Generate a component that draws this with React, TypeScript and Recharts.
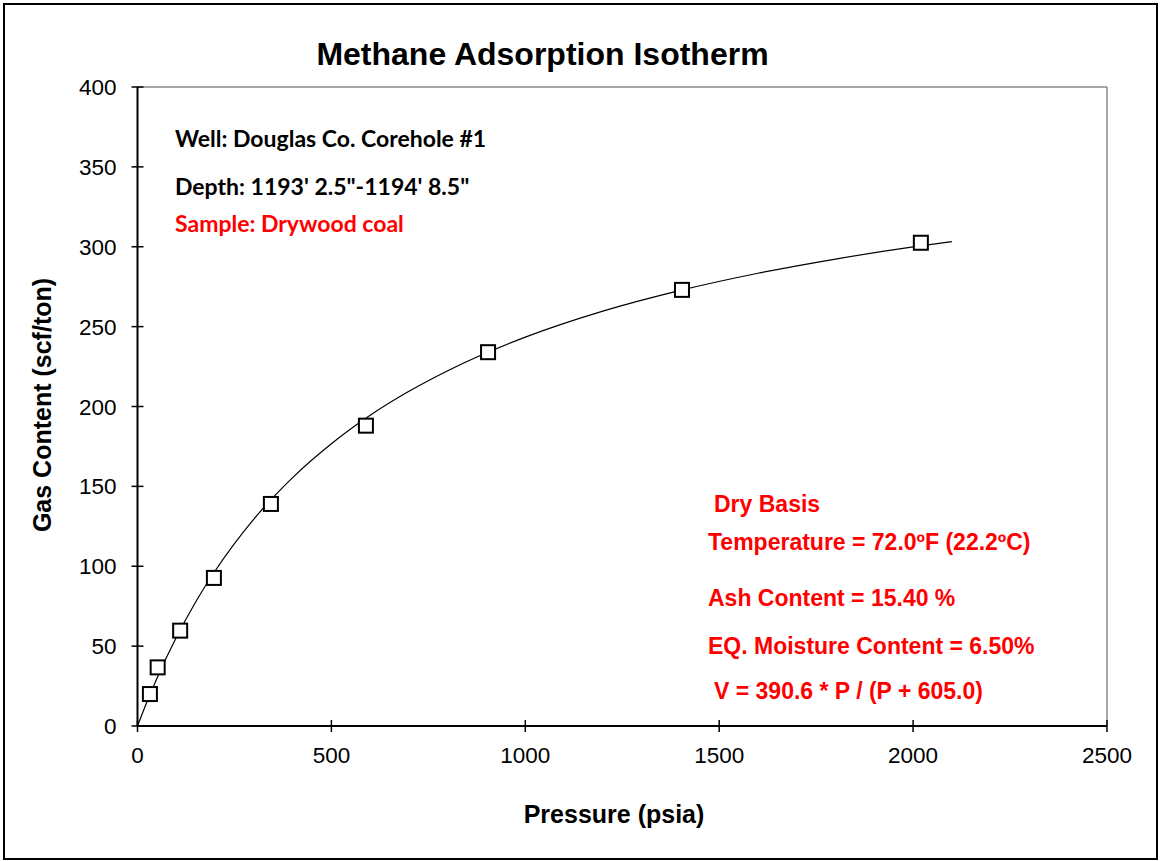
import React from 'react'
import {
  ComposedChart,
  Line,
  Scatter,
  XAxis,
  YAxis,
  ReferenceLine
} from 'recharts'

// measured points (psia, scf/ton)
const measuredPressure = [32, 52, 110, 197, 344, 589, 904, 1404, 2020]
const measuredGas = [20, 36.7, 59.7, 92.7, 139, 188, 234, 273, 302.5]

// fitted isotherm
const curvePressure = [0, 25, 50, 100, 150, 200, 300, 400, 500, 600, 700, 800, 1000, 1200, 1400, 1600, 1800, 2000, 2100]
const curveGas = [0, 15.5, 29.8, 55.4, 77.6, 97.0, 129.5, 155.5, 176.7, 194.5, 209.5, 222.4, 243.4, 259.7, 272.7, 283.4, 292.3, 299.9, 303.2]

const xTicks = [0, 500, 1000, 1500, 2000, 2500]
const yTicks = [0, 50, 100, 150, 200, 250, 300, 350, 400]

const measured = measuredPressure.map((p, i) => ({ p, v: measuredGas[i] }))
const curve = curvePressure.map((p, i) => ({ p, v: curveGas[i] }))

const ARIAL = '"Liberation Sans", Arial, sans-serif'
const CALIBRI = 'Lato, "Open Sans", sans-serif'

const YTick = (props: any) => {
  const { x, y, payload } = props
  const ax = x + 21
  return (
    <g>
      <line x1={ax - 6} x2={ax + 6} y1={y} y2={y} stroke='#000' strokeWidth={1.5} />
      <text x={x} y={y + 8} textAnchor='end' fontSize={22.5} fontFamily={ARIAL} fill='#000'>
        {payload.value}
      </text>
    </g>
  )
}

const XTick = (props: any) => {
  const { x, y, payload } = props
  const ay = y - 12
  return (
    <g>
      <line x1={x} x2={x} y1={ay - 6} y2={ay + 6} stroke='#000' strokeWidth={1.5} />
      <text x={x} y={ay + 37} textAnchor='middle' fontSize={22.5} fontFamily={ARIAL} fill='#000'>
        {payload.value}
      </text>
    </g>
  )
}

const SquareMark = (props: any) => {
  const { cx, cy } = props
  return <rect x={cx - 7} y={cy - 7} width={14} height={14} fill='#fff' stroke='#000' strokeWidth={2} />
}

// absolutely placed text, vertically centred on `top`
const abs = (left: number, top: number, extra: any = {}) => ({
  position: 'absolute' as const,
  left,
  top,
  whiteSpace: 'nowrap' as const,
  lineHeight: 1,
  transform: 'translateY(-50%)',
  ...extra
})

export default function App () {
  const red = { color: '#ff0000', fontFamily: ARIAL, fontWeight: 700, fontSize: 23 }
  const note = { fontFamily: CALIBRI, fontWeight: 700, fontSize: 23 }
  return (
    <div style={{ position: 'absolute', left: 0, top: 0, width: 1160, height: 861, background: '#fff' }}>
      <div style={{ position: 'absolute', left: 3, top: 3, width: 1155, height: 857, border: '2px solid #000', boxSizing: 'border-box' }} />
      <ComposedChart
        width={1160}
        height={861}
        margin={{ top: 87, right: 53, bottom: 105, left: 77.5 }}
        style={{ position: 'absolute', left: 0, top: 0 }}
      >
        <XAxis
          dataKey='p'
          type='number'
          domain={[0, 2500]}
          ticks={xTicks}
          height={30}
          tickSize={0}
          tickMargin={12}
          tickLine={false}
          tick={<XTick />}
          axisLine={{ stroke: '#000', strokeWidth: 2 }}
          allowDataOverflow
        />
        <YAxis
          dataKey='v'
          type='number'
          domain={[0, 400]}
          ticks={yTicks}
          width={60}
          tickSize={0}
          tickMargin={21}
          tickLine={false}
          tick={<YTick />}
          axisLine={{ stroke: '#000', strokeWidth: 2 }}
          allowDataOverflow
        />
        <ReferenceLine y={400} stroke='#888' strokeWidth={1.5} />
        <ReferenceLine x={2500} stroke='#888' strokeWidth={1.5} />
        <Line
          data={curve}
          dataKey='v'
          type='monotone'
          stroke='#000'
          strokeWidth={1.2}
          dot={false}
          activeDot={false}
          isAnimationActive={false}
        />
        <Scatter data={measured} dataKey='v' shape={<SquareMark />} isAnimationActive={false} />
      </ComposedChart>

      <div style={abs(0, 54, { width: 1085, textAlign: 'center', fontFamily: ARIAL, fontWeight: 700, fontSize: 32 })}>
        Methane Adsorption Isotherm
      </div>
      <div style={abs(42, 405, { transform: 'translate(-50%, -50%) rotate(-90deg)', fontFamily: ARIAL, fontWeight: 700, fontSize: 25 })}>
        Gas Content (scf/ton)
      </div>
      <div style={abs(614, 814, { transform: 'translate(-50%, -50%)', fontFamily: ARIAL, fontWeight: 700, fontSize: 25 })}>
        Pressure (psia)
      </div>

      <div style={abs(175, 138, note)}>Well: Douglas Co. Corehole #1</div>
      <div style={abs(175, 186, note)}>Depth: 1193' 2.5"-1194' 8.5"</div>
      <div style={abs(175, 223, { ...note, color: '#ff0000' })}>Sample: Drywood coal</div>

      <div style={abs(714, 504, red)}>Dry Basis</div>
      <div style={abs(708, 542, red)}>Temperature = 72.0ºF (22.2ºC)</div>
      <div style={abs(708, 598, red)}>Ash Content = 15.40 %</div>
      <div style={abs(708, 646, red)}>EQ. Moisture Content = 6.50%</div>
      <div style={abs(714, 691, red)}>V = 390.6 * P / (P + 605.0)</div>
    </div>
  )
}
